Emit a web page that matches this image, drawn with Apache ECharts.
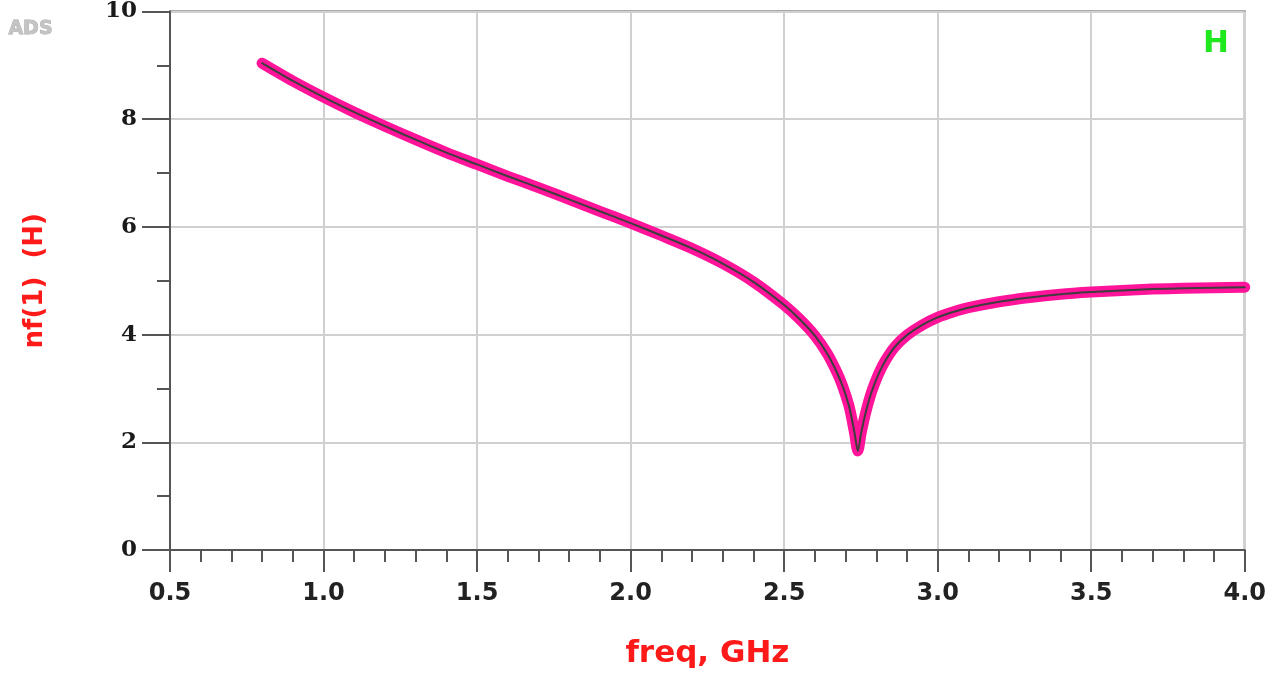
<!DOCTYPE html>
<html>
<head>
<meta charset="utf-8">
<script src="https://cdn.jsdelivr.net/npm/echarts@6/dist/echarts.min.js"></script>
<style>
  html, body { margin: 0; padding: 0; background: #ffffff; }
  #chart { width: 1269px; height: 674px; }
</style>
</head>
<body>
<div id="chart"></div>
<script>
// Frequency (GHz) and noise figure nf(1)
var freqGHz = [0.80, 0.90, 1.00, 1.10, 1.20, 1.30, 1.40, 1.50, 1.60, 1.70, 1.80, 1.90,
               2.00, 2.10, 2.20, 2.30, 2.40, 2.50, 2.55, 2.60, 2.64, 2.67, 2.69, 2.71,
               2.72, 2.73, 2.74, 2.75, 2.76, 2.77, 2.78, 2.79, 2.81, 2.83, 2.86, 2.90,
               2.95, 3.00, 3.05, 3.10, 3.20, 3.30, 3.40, 3.50, 3.60, 3.70, 3.80, 3.90, 4.00];
var nfValues = [9.04, 8.71, 8.41, 8.13, 7.87, 7.62, 7.38, 7.16, 6.94, 6.73, 6.51, 6.29,
                6.07, 5.84, 5.60, 5.32, 4.98, 4.55, 4.29, 3.98, 3.65, 3.32, 3.05, 2.70,
                2.45, 2.15, 1.84, 2.15, 2.42, 2.65, 2.85, 3.02, 3.30, 3.52, 3.77, 3.99,
                4.18, 4.32, 4.42, 4.50, 4.61, 4.69, 4.75, 4.79, 4.82, 4.845, 4.86, 4.87, 4.88];
var xTickLabels = ['0.5', '1.0', '1.5', '2.0', '2.5', '3.0', '3.5', '4.0'];
var yTickLabels = ['0', '2', '4', '6', '8', '10'];

var seriesData = freqGHz.map(function (f, i) { return [f, nfValues[i]]; });

var chart = echarts.init(document.getElementById('chart'), null, { renderer: 'canvas' });

chart.setOption({
  animation: false,
  backgroundColor: '#ffffff',
  grid: {
    left: 170, right: 24, top: 10, bottom: 121,
    show: true, borderColor: '#555555', borderWidth: 2, backgroundColor: 'transparent'
  },
  xAxis: {
    type: 'value',
    min: 0.5, max: 4.0, interval: 0.5,
    name: 'freq, GHz',
    nameLocation: 'middle',
    nameGap: 88,
    nameTextStyle: { color: '#ff1a1a', fontFamily: 'DejaVu Sans', fontWeight: 'bold', fontSize: 31 },
    axisLine: { show: true, onZero: false, lineStyle: { color: '#555555', width: 2 } },
    axisTick: { show: true, inside: false, length: 22, lineStyle: { color: '#555555', width: 2 } },
    minorTick: { show: true, splitNumber: 5, length: 12, lineStyle: { color: '#555555', width: 2 } },
    splitLine: { show: true, lineStyle: { color: '#d0d0d0', width: 2 } },
    axisLabel: {
      margin: 32,
      color: '#222222',
      fontFamily: 'DejaVu Sans', fontWeight: 'bold', fontSize: 24,
      formatter: function (v) {
        var idx = Math.round((v - 0.5) / 0.5);
        return xTickLabels[idx] !== undefined ? xTickLabels[idx] : '';
      }
    }
  },
  yAxis: {
    type: 'value',
    min: 0, max: 10, interval: 2,
    name: 'nf(1)  (H)',
    nameLocation: 'middle',
    nameGap: 122,
    nameRotate: 90,
    nameTextStyle: { color: '#ff1a1a', fontFamily: 'DejaVu Sans', fontWeight: 'bold', fontSize: 26 },
    axisLine: { show: true, onZero: false, lineStyle: { color: '#555555', width: 2 } },
    axisTick: { show: true, inside: false, length: 28, lineStyle: { color: '#555555', width: 2 } },
    minorTick: { show: true, splitNumber: 2, length: 13, lineStyle: { color: '#555555', width: 2 } },
    splitLine: { show: true, lineStyle: { color: '#d0d0d0', width: 2 } },
    axisLabel: {
      margin: 33,
      color: '#1a1a1a',
      fontFamily: 'DejaVu Serif', fontWeight: 'bold', fontSize: 23,
      formatter: function (v) {
        var idx = Math.round(v / 2);
        return yTickLabels[idx] !== undefined ? yTickLabels[idx] : '';
      }
    }
  },
  series: [
    {
      type: 'line',
      data: seriesData,
      showSymbol: false,
      smooth: 0.3,
      lineStyle: { color: '#ff149a', width: 11, cap: 'round', join: 'round' },
      z: 2
    },
    {
      type: 'line',
      data: seriesData,
      showSymbol: false,
      smooth: 0.3,
      lineStyle: { color: '#3d3d3d', width: 2, cap: 'round', join: 'round' },
      z: 3
    }
  ],
  graphic: [
    {
      type: 'text', left: 8, top: 19,
      style: { text: 'ADS', fill: '#c4c4c4', stroke: '#a8a8a8', lineWidth: 0.8, font: 'bold 19px "DejaVu Sans"' }
    },
    {
      type: 'text', left: 1203, top: 28,
      style: { text: 'H', fill: '#1fe81f', font: 'bold 31px "DejaVu Sans"' }
    }
  ]
});
</script>
</body>
</html>
